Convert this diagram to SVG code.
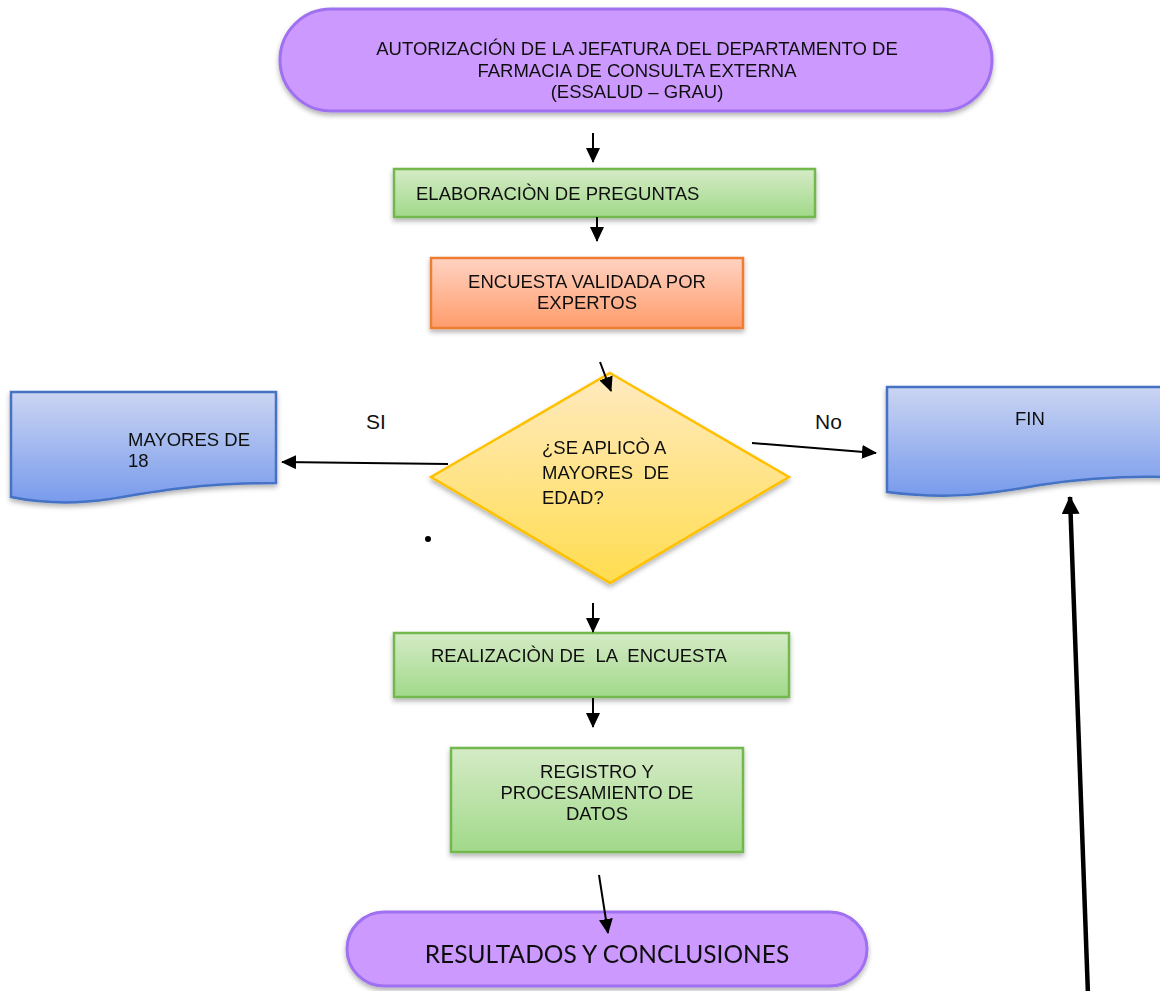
<svg xmlns="http://www.w3.org/2000/svg" width="1160" height="991" viewBox="0 0 1160 991">
<style>
.t{font-family:"Liberation Sans",Arial,sans-serif;font-size:18.5px;fill:#111}
.c{text-anchor:middle}
.lbl{font-family:"Liberation Sans",Arial,sans-serif;font-size:21px;fill:#111}
.ln{stroke:#000;stroke-width:2;fill:none}
.term{fill:#cc99ff;stroke:#9f70f0;stroke-width:3}
.green{fill:url(#gG);stroke:#72b84e;stroke-width:2.5}
</style>
<defs>
<linearGradient id="gG" x1="0" y1="0" x2="0" y2="1"><stop offset="0" stop-color="#d5ebc6"/><stop offset="1" stop-color="#a1d98a"/></linearGradient>
<linearGradient id="gO" x1="0" y1="0" x2="0" y2="1"><stop offset="0" stop-color="#ffd3c2"/><stop offset="1" stop-color="#ff9c6c"/></linearGradient>
<linearGradient id="gB" x1="0" y1="0" x2="0" y2="1"><stop offset="0" stop-color="#cbd5f2"/><stop offset="1" stop-color="#789bec"/></linearGradient>
<linearGradient id="gY" x1="0" y1="0" x2="0" y2="1"><stop offset="0" stop-color="#ffeac0"/><stop offset="1" stop-color="#ffdd50"/></linearGradient>
<filter id="sh" x="-10%" y="-10%" width="120%" height="130%"><feDropShadow dx="0" dy="3" stdDeviation="2.5" flood-color="#000" flood-opacity="0.3"/></filter>
<marker id="ah" markerUnits="userSpaceOnUse" markerWidth="15" markerHeight="14" refX="14" refY="7" orient="auto"><path d="M0,0 L15,7 L0,14 Z" fill="#000"/></marker>
<marker id="ahb" markerUnits="userSpaceOnUse" markerWidth="18" markerHeight="18" refX="17" refY="9" orient="auto"><path d="M0,0 L18,9 L0,18 Z" fill="#000"/></marker>
</defs>

<g id="n-autorizacion" filter="url(#sh)">
<rect class="term" x="280" y="9" width="712" height="102" rx="51"/>
<text class="t c" x="637" y="55">AUTORIZACIÓN DE LA JEFATURA DEL DEPARTAMENTO DE</text>
<text class="t c" x="637" y="77">FARMACIA DE CONSULTA EXTERNA</text>
<text class="t c" x="637" y="98">(ESSALUD – GRAU)</text>
</g>

<g id="n-elaboracion" filter="url(#sh)">
<rect class="green" x="394" y="169" width="421" height="48"/>
<text class="t" x="416" y="200">ELABORACIÒN DE PREGUNTAS</text>
</g>

<g id="n-encuesta" filter="url(#sh)">
<rect x="431" y="258" width="312" height="70" fill="url(#gO)" stroke="#ed7d31" stroke-width="2.5"/>
<text class="t c" x="587" y="288">ENCUESTA VALIDADA POR</text>
<text class="t c" x="587" y="309">EXPERTOS</text>
</g>

<g id="n-decision" filter="url(#sh)">
<polygon points="610,373 789,477 610,583 431,477" fill="url(#gY)" stroke="#ffc000" stroke-width="2.5"/>
<text class="t" x="542" y="454">¿SE APLICÒ A</text>
<text class="t" x="542" y="479" xml:space="preserve">MAYORES  DE</text>
<text class="t" x="542" y="504">EDAD?</text>
</g>

<g id="n-mayores" filter="url(#sh)">
<path d="M11,392 L276,392 L276,483 C200,483 150,492 110,499 C70,505 40,503 11,497 Z" fill="url(#gB)" stroke="#4472c4" stroke-width="2.5"/>
<text class="t" x="128" y="446">MAYORES DE</text>
<text class="t" x="128" y="467">18</text>
</g>

<g id="n-fin" filter="url(#sh)">
<path d="M887,387 L1165,387 L1165,477 C1120,476 1080,479 1040,485 C990,494 950,500 887,492 Z" fill="url(#gB)" stroke="#4472c4" stroke-width="2.5"/>
<text class="t" x="1015" y="425">FIN</text>
</g>

<g id="n-realizacion" filter="url(#sh)">
<rect class="green" x="394" y="633" width="395" height="64"/>
<text class="t" x="431" y="662" xml:space="preserve">REALIZACIÒN DE  LA  ENCUESTA</text>
</g>

<g id="n-registro" filter="url(#sh)">
<rect class="green" x="451" y="748" width="292" height="104"/>
<text class="t c" x="597" y="778">REGISTRO Y</text>
<text class="t c" x="597" y="799">PROCESAMIENTO DE</text>
<text class="t c" x="597" y="820">DATOS</text>
</g>

<g id="n-resultados" filter="url(#sh)">
<rect class="term" x="347" y="912" width="520" height="74" rx="37"/>
<text x="607" y="963" text-anchor="middle" font-family="Lato,'Open Sans',sans-serif" font-size="24.5" fill="#111">RESULTADOS Y CONCLUSIONES</text>
</g>

<g id="connectors">
<line class="ln" x1="593" y1="133" x2="593" y2="162" marker-end="url(#ah)"/>
<line class="ln" x1="597" y1="217" x2="597" y2="241" marker-end="url(#ah)"/>
<line class="ln" x1="600" y1="362" x2="611" y2="391" marker-end="url(#ah)"/>
<line class="ln" x1="448" y1="464" x2="282" y2="462" marker-end="url(#ah)"/>
<line class="ln" x1="752" y1="443" x2="876" y2="453" marker-end="url(#ah)"/>
<line class="ln" x1="593" y1="603" x2="593" y2="632" marker-end="url(#ah)"/>
<line class="ln" x1="593" y1="698" x2="593" y2="727" marker-end="url(#ah)"/>
<line class="ln" x1="599" y1="875" x2="608" y2="933" marker-end="url(#ah)"/>
<line stroke="#000" stroke-width="4.5" x1="1088" y1="995" x2="1070" y2="497" marker-end="url(#ahb)"/>
<text class="lbl" x="366" y="429">SI</text>
<text class="lbl" x="815" y="429">No</text>
<circle cx="428" cy="539" r="3" fill="#000"/>
</g>
</svg>
